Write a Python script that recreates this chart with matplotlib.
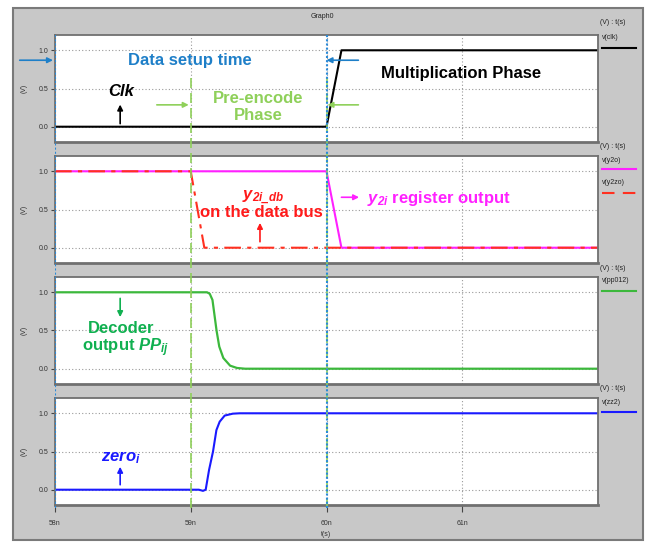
import matplotlib
matplotlib.use("Agg")
import matplotlib.pyplot as plt
from matplotlib.patches import Rectangle
from matplotlib.lines import Line2D

plt.rcParams["font.family"] = ["Liberation Sans", "DejaVu Sans"]
plt.rcParams["mathtext.fontset"] = "custom"
plt.rcParams["mathtext.rm"] = "Liberation Sans"
plt.rcParams["mathtext.it"] = "Liberation Sans:italic"
plt.rcParams["mathtext.bf"] = "Liberation Sans:bold"
plt.rcParams["mathtext.bfit"] = "Liberation Sans:bold:italic"

# signals (time in ns, volts)
t_clk = [58.0, 60.0, 60.11, 62.0]
v_clk = [0, 0, 1, 1]
t_y2o = [58.0, 60.0, 60.11, 62.0]
v_y2o = [1, 1, 0, 0]
t_y2zo = [58.0, 59.0, 59.1, 62.0]
v_y2zo = [1, 1, 0, 0]
t_pp = [58.0, 59.12, 59.14, 59.16, 59.19, 59.21, 59.24, 59.29, 59.34, 59.40, 62.0]
v_pp = [1, 1, 0.98, 0.9, 0.5, 0.29, 0.14, 0.04, 0.01, 0, 0]
t_zz = [58.0, 59.06, 59.09, 59.11, 59.135, 59.164, 59.189, 59.213, 59.25, 59.31, 59.36, 62.0]
v_zz = [0, 0, -0.015, 0.0, 0.26, 0.5, 0.78, 0.89, 0.97, 0.995, 1, 1]

xticks = [58, 59, 60, 61]
xticklabels = ["58n", "59n", "60n", "61n"]
yticks = [0.0, 0.5, 1.0]
yticklabels = ["0.0", "0.5", "1.0"]
legend_names = ["v(clk)", "v(y2o)", "v(y2zo)", "v(pp012)", "v(zz2)"]
t_setup, t_encode, t_mult = 58.0, 59.0, 60.0

W, H = 647, 542
fig = plt.figure(figsize=(W / 100, H / 100), dpi=100)
fig.patch.set_facecolor("white")
fig.add_artist(Rectangle((13 / W, 1 - 540 / H), 630 / W, 532 / H, transform=fig.transFigure,
                         facecolor="#c8c8c8", edgecolor="#7a7a7a", lw=1.5, zorder=0))
fig.text(322 / W, 1 - 17 / H, "Graph0", fontsize=5, ha="center", va="center", color="#222222")

left, width = 55 / W, (598 - 55) / W
tops = [35, 156, 277, 398]
axes = []
for top in tops:
    ax = fig.add_axes([left, 1 - (top + 107) / H, width, 107 / H])
    ax.set_xlim(58, 62)
    ax.set_ylim(-0.2, 1.2)
    ax.set_xticks(xticks)
    ax.set_yticks(yticks)
    ax.set_yticklabels(yticklabels, fontsize=5, color="#333333")
    ax.grid(True, color="#9a9a9a", lw=0.8, ls=(0, (1, 2)))
    ax.tick_params(axis="y", length=3, width=0.8, pad=2, color="#444444")
    ax.tick_params(axis="x", length=0, labelbottom=False)
    for s in ax.spines.values():
        s.set_color("#707070")
        s.set_linewidth(1.3)
    ax.spines["bottom"].set_linewidth(2)
    ax.set_ylabel("(V)", fontsize=5, color="#333333", labelpad=8)
    axes.append(ax)

ax1, ax2, ax3, ax4 = axes
ax4.tick_params(axis="x", length=5, width=0.8, labelbottom=True, labelsize=5, pad=6, color="#444444")
ax4.set_xticklabels(xticklabels, color="#333333")
ax4.set_xlabel("t(s)", fontsize=5, color="#333333", labelpad=3)

ax1.plot(t_clk, v_clk, color="black", lw=1.5)
ax2.plot(t_y2o, v_y2o, color="#ff20ff", lw=1.5)
ax2.plot(t_y2zo, v_y2zo, color="#ff3020", lw=1.5, dashes=(8, 3, 2, 3))
ax3.plot(t_pp, v_pp, color="#3cb83c", lw=1.6)
ax4.plot(t_zz, v_zz, color="#1a1aff", lw=1.5)

# vertical markers across all panels
ov = fig.add_axes([left, 1 - 508 / H, width, (508 - 35) / H], zorder=10)
ov.set_xlim(58, 62)
ov.set_ylim(0, 1)
ov.axis("off")
ov.patch.set_alpha(0)
for tv in [t_encode, t_mult]:
    ov.axvline(tv, ymin=0, ymax=(508 - 75) / 473, color="#8fd05a", lw=1.2, dashes=(6, 3))
for tv in [t_setup, t_mult]:
    ov.axvline(tv, ymin=0, ymax=1, color="#2a8ad8", lw=1.5, ls=(0, (1, 1)))

def arrow(ax, x0, y0, x1, y1, c):
    ax.annotate("", xy=(x1, y1), xytext=(x0, y0), annotation_clip=False,
                arrowprops=dict(arrowstyle="-|>", color=c, lw=1.2, mutation_scale=8,
                                shrinkA=0, shrinkB=0), zorder=12)

blue_t = "#1e7fc8"
lgreen = "#8fd05a"
ax1.text(58.99, 0.87, "Data setup time", color=blue_t, fontsize=12, fontweight="bold", ha="center", va="center")
arrow(ax1, 57.74, 0.87, 57.985, 0.87, blue_t)
arrow(ax1, 60.235, 0.87, 60.0, 0.87, blue_t)
ax1.text(58.485, 0.455, "Clk", color="black", fontsize=12, fontweight="bold", style="italic", ha="center", va="center")
arrow(ax1, 58.48, 0.04, 58.48, 0.29, "black")
ax1.text(59.5, 0.26, "Pre-encode\nPhase", color=lgreen, fontsize=12, fontweight="bold", ha="center", va="center")
arrow(ax1, 58.75, 0.286, 58.985, 0.286, lgreen)
arrow(ax1, 60.235, 0.286, 60.007, 0.286, lgreen)
ax1.text(60.99, 0.70, "Multiplication Phase", color="black", fontsize=12, fontweight="bold", ha="center", va="center")

ax2.text(59.53, 0.66, r"$\mathbfit{y}_{\mathbfit{2i\_db}}$", color="#ff1a1a", fontsize=12, ha="center", va="center")
ax2.text(59.52, 0.455, "on the data bus", color="#ff1a1a", fontsize=12, fontweight="bold", ha="center", va="center")
arrow(ax2, 59.51, 0.078, 59.51, 0.325, "#ff1a1a")
arrow(ax2, 60.11, 0.66, 60.24, 0.66, "#ff20ff")
ax2.text(60.30, 0.64, r"$\mathbfit{y}_{\mathbfit{2i}}$ register output", color="#ff20ff", fontsize=12,
         fontweight="bold", ha="left", va="center")

dgreen = "#10b050"
arrow(ax3, 58.48, 0.92, 58.48, 0.675, dgreen)
ax3.text(58.485, 0.53, "Decoder", color=dgreen, fontsize=12, fontweight="bold", ha="center", va="center")
ax3.text(58.52, 0.27, r"output $\mathbfit{PP}_{\mathbfit{ij}}$", color=dgreen, fontsize=12, fontweight="bold",
         ha="center", va="center")

ax4.text(58.485, 0.415, r"$\mathbfit{zero}_{\mathbfit{i}}$", color="#1a1aff", fontsize=12, ha="center", va="center")
arrow(ax4, 58.48, 0.065, 58.48, 0.30, "#1a1aff")

# legend area on the right
lx = 602 / W
leg = [
    (23, [(38, 48, legend_names[0], "black", "-")]),
    (147, [(160, 169, legend_names[1], "#ff20ff", "-"), (183, 193, legend_names[2], "#ff3020", "--")]),
    (268, [(281, 291, legend_names[3], "#3cb83c", "-")]),
    (389, [(403, 412, legend_names[4], "#1a1aff", "-")]),
]
for hy, items in leg:
    fig.text(600 / W, 1 - hy / H, "(V) : t(s)", fontsize=5, va="center", color="#222222")
    for ty, ly, name, c, st in items:
        fig.text(lx, 1 - ty / H, name, fontsize=5, va="center", color="#222222")
        ln = Line2D([lx, 636 / W], [1 - ly / H, 1 - ly / H], transform=fig.transFigure, color=c, lw=1.5)
        if st == "--":
            ln.set_dashes((6, 4))
        fig.add_artist(ln)

fig.savefig("out.png", dpi=100)
